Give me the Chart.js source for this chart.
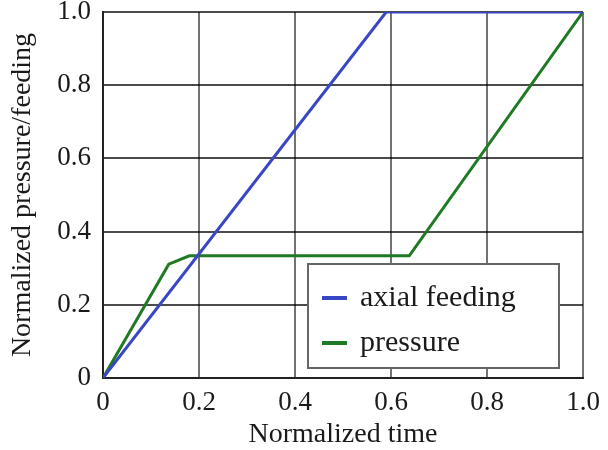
<!DOCTYPE html>
<html lang="en">
<head>
  <meta charset="UTF-8">
  <title>Normalized pressure / feeding</title>
  <script src="https://cdn.jsdelivr.net/npm/chart.js"></script>
  <style>
    html, body { margin: 0; padding: 0; background: #fff; }
    #wrap { width: 608px; height: 450px; }
  </style>
</head>
<body>
<div id="wrap"><canvas id="myChart" width="608" height="450"></canvas></div>

<script>
// data
const seriesNames = ['axial feeding', 'pressure'];
const seriesColors = ['#3a47c4', '#1f7a23'];

const feedingTime = [0, 0.59, 1.0];
const feedingValue = [0, 1.0, 1.0];

const pressureTime = [0, 0.137, 0.18, 0.638, 1.0];
const pressureValue = [0, 0.311, 0.334, 0.334, 1.0];

const xTickLabels = ['0', '0.2', '0.4', '0.6', '0.8', '1.0'];
const yTickLabels = ['0', '0.2', '0.4', '0.6', '0.8', '1.0'];

const serif = '"Liberation Serif", "Times New Roman", serif';

function toPoints(xs, ys) {
  return xs.map((x, i) => ({ x: x, y: ys[i] }));
}

// legend with a framed box, drawn inside the plot
const boxLegend = {
  id: 'boxLegend',
  afterDraw(chart) {
    const ctx = chart.ctx;
    const ca = chart.chartArea;
    const left = ca.right - 275, right = ca.right - 24;
    const top = ca.bottom - 114, bottom = ca.bottom - 10;
    ctx.save();
    ctx.fillStyle = '#fff';
    ctx.fillRect(left, top, right - left, bottom - top);
    ctx.strokeStyle = '#666';
    ctx.lineWidth = 2;
    ctx.strokeRect(left, top, right - left, bottom - top);

    ctx.font = '30px ' + serif;
    ctx.textBaseline = 'middle';
    ctx.textAlign = 'left';
    chart.data.datasets.forEach((ds, i) => {
      const y = top + 34 + i * 45;
      ctx.strokeStyle = ds.borderColor;
      ctx.lineWidth = 4;
      ctx.beginPath();
      ctx.moveTo(left + 14, y);
      ctx.lineTo(left + 39, y);
      ctx.stroke();
      ctx.fillStyle = '#1a1a1a';
      ctx.fillText(ds.label, left + 52, y);
    });
    ctx.restore();
  }
};

const ctx = document.getElementById('myChart').getContext('2d');
new Chart(ctx, {
  type: 'line',
  data: {
    datasets: [
      {
        label: seriesNames[0],
        data: toPoints(feedingTime, feedingValue),
        borderColor: seriesColors[0],
        borderWidth: 3,
        pointRadius: 0,
        tension: 0
      },
      {
        label: seriesNames[1],
        data: toPoints(pressureTime, pressureValue),
        borderColor: seriesColors[1],
        borderWidth: 3,
        pointRadius: 0,
        tension: 0
      }
    ]
  },
  options: {
    responsive: false,
    animation: false,
    layout: { padding: { top: 12, right: 25, left: 0, bottom: 0 } },
    plugins: {
      legend: { display: false },
      tooltip: { enabled: false }
    },
    scales: {
      x: {
        type: 'linear',
        min: 0,
        max: 1,
        afterFit: (scale) => {
          scale.height = 72;
          scale.paddingLeft = 0;
          scale.paddingRight = 0;
        },
        ticks: {
          stepSize: 0.2,
          padding: 11,
          color: '#1a1a1a',
          font: { family: serif, size: 27, lineHeight: 1 },
          maxRotation: 0,
          callback: (value, index) => xTickLabels[index]
        },
        grid: { color: 'rgba(0,0,0,0.55)', lineWidth: 2, drawTicks: false },
        border: { color: '#222', width: 2 },
        title: {
          display: true,
          text: 'Normalized time',
          color: '#1a1a1a',
          font: { family: serif, size: 28, lineHeight: 1.1 },
          padding: { top: 0, bottom: 0 }
        }
      },
      y: {
        min: 0,
        max: 1,
        afterFit: (scale) => {
          scale.width = 103;
          scale.paddingTop = 0;
          scale.paddingBottom = 0;
        },
        ticks: {
          stepSize: 0.2,
          padding: 12,
          color: '#1a1a1a',
          font: { family: serif, size: 27, lineHeight: 1 },
          callback: (value, index) => yTickLabels[index]
        },
        grid: { color: 'rgba(0,0,0,0.7)', lineWidth: 2, drawTicks: false },
        border: { color: '#222', width: 2 },
        title: {
          display: true,
          text: 'Normalized pressure/feeding',
          color: '#1a1a1a',
          font: { family: serif, size: 28, lineHeight: 1.1 },
          padding: { top: 7, bottom: 0 }
        }
      }
    }
  },
  plugins: [boxLegend]
});
</script>
</body>
</html>
